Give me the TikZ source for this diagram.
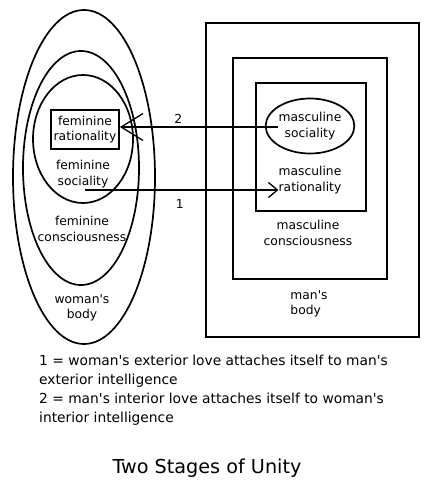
\documentclass[tikz,border=0pt]{standalone}
\usepackage{fontspec}
\setmainfont{DejaVu Sans}
\usetikzlibrary{shapes.geometric,arrows.meta}

\newcommand{\ap}{\textquotesingle}

\tikzset{
    unity line/.style={
      draw=black,
      line width=1.7pt
    },
    unity label/.style={
      font=\fontsize{12.3}{15.5}\selectfont,
      align=center,
      inner sep=0pt
    },
    fem box/.style={
      unity label,
      draw=black,
      line width=1.7pt,
      minimum width=68pt,
      minimum height=39pt
    },
    masc oval/.style={
      unity label,
      ellipse,
      draw=black,
      line width=1.7pt,
      minimum width=84pt,
      minimum height=55pt
    },
    big link/.style={
      draw=black,
      line width=1.5pt,
      -{Straight Barb[length=22pt,width=27pt,line width=1.3pt]}
    },
    small link/.style={
      draw=black,
      line width=1.5pt,
      -{Straight Barb[length=9pt,width=15pt,line width=1.3pt]}
    },
    note text/.style={
      font=\fontsize{13.8}{19}\selectfont,
      align=left,
      inner sep=0pt
    },
    title text/.style={
      font=\fontsize{19.2}{23}\selectfont,
      inner sep=0pt
    }
  }

\begin{document}
\begin{tikzpicture}[x=1pt,y=-1pt]
      \useasboundingbox (0,0) rectangle (434,486);

      % 女性の側
      \draw[unity line] (84,177) ellipse [x radius=71pt, y radius=167pt];
      \draw[unity line] (81,168) ellipse [x radius=58pt, y radius=117pt];
      \draw[unity line] (83,139) ellipse [x radius=50pt, y radius=64pt];
      \node[fem box] (frat) at (85,129.5) {feminine\\rationality};
      \node[unity label] (fsoc) at (83,174) {feminine\\sociality};
      \node[unity label] (fcon) at (82,229) {feminine\\consciousness};
      \node[unity label] (fbody) at (82,308) {woman\ap s\\body};

      % 男性の側
      \draw[unity line] (206,23) rectangle (419,337);
      \draw[unity line] (233,58) rectangle (387,279);
      \draw[unity line] (256,83) rectangle (366,211);
      \node[masc oval] (msoc) at (310,126) {masculine\\sociality};
      \node[unity label] (mrat) at (310,180) {masculine\\rationality};
      \node[unity label] (mcon) at (308,233) {masculine\\consciousness};
      \node[unity label, align=left] (mbody) at (309,304) {man\ap s\\body};

      % 矢印
      \coordinate (s2) at (278,127);
      \coordinate (s1) at (85,190);
      \draw[big link] (s2) -- (s2 -| frat.east)
        node[unity label, pos=0.63, above=3pt] (lab2) {2};
      \draw[small link] (s1) -- (s1 -| mrat.west)
        node[unity label, pos=0.49, below=9pt] (lab1) {1};

      % 説明
      \node[note text, anchor=north west] (notes) at (39,355)
        {1 = woman\ap s exterior love attaches itself to man\ap s\\
         exterior intelligence\\
         2 = man\ap s interior love attaches itself to woman\ap s\\
         interior intelligence};
      \node[title text, anchor=base] (title) at (207,473) {Two Stages of Unity};
    \end{tikzpicture}
\end{document}
